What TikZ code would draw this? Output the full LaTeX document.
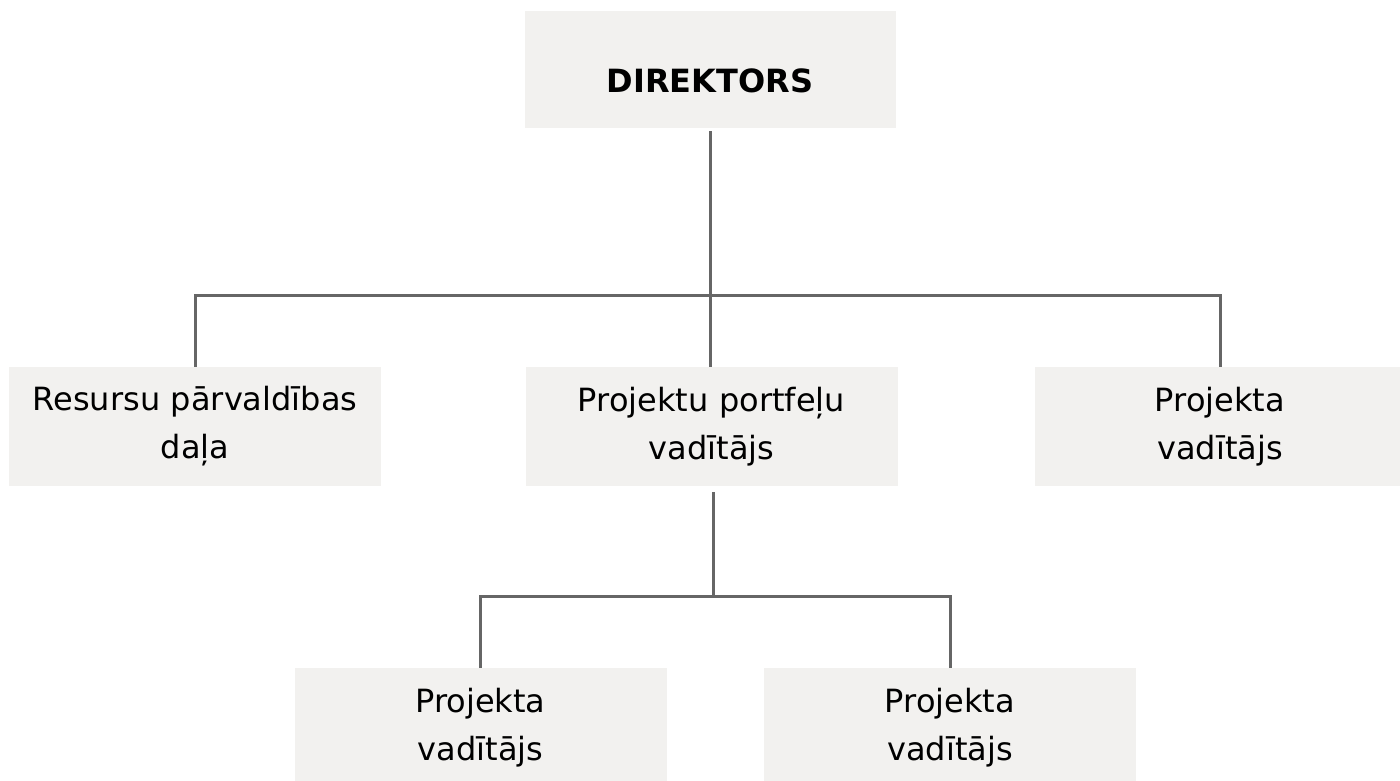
\documentclass[tikz,border=0pt]{standalone}
\usepackage{fontspec}
\setmainfont{DejaVu Sans}
\usepackage{tikz}
\definecolor{boxgray}{HTML}{F2F1EF}
\definecolor{linegray}{HTML}{666666}

\begin{document}
\begin{tikzpicture}[x=1pt, y=-1pt,
  box/.style={fill=boxgray, inner sep=0pt, minimum width=372pt, minimum height=119pt,
    text width=350pt, align=center, font=\fontsize{32}{48}\selectfont},
  link/.style={draw=linegray, line width=3pt}]
\useasboundingbox (0,0) rectangle (1400,780);
\node[box, minimum width=371pt, minimum height=117pt, text height=81pt, text depth=36pt,
  font=\fontsize{32}{48}\selectfont\bfseries] (dir) at (710,69.5) {DIREKTORS};
\node[box] (res) at (195,426.5) {Resursu pārvaldības\\daļa};
\node[box] (port) at (711.5,426.5) {Projektu portfeļu\\vadītājs};
\node[box, minimum width=370pt] (pv1) at (1220,426.5) {Projekta\\vadītājs};
\node[box] (pv2) at (480.5,727.5) {Projekta\\vadītājs};
\node[box] (pv3) at (950,727.5) {Projekta\\vadītājs};
\coordinate (top) at (710,295);
\coordinate (low) at (713,596);
\draw[link] (dir.south) ++(0,3) -- (top);
\draw[link] (res.north) -- (res.north |- top) -- (pv1.north |- top) -- (pv1.north);
\draw[link] (top) -- (top |- port.north);
\draw[link] (port.south) ++(1.5,6) -- (low);
\draw[link] (pv2.north) -- (pv2.north |- low) -- (pv3.north |- low) -- (pv3.north);
\end{tikzpicture}
\end{document}
